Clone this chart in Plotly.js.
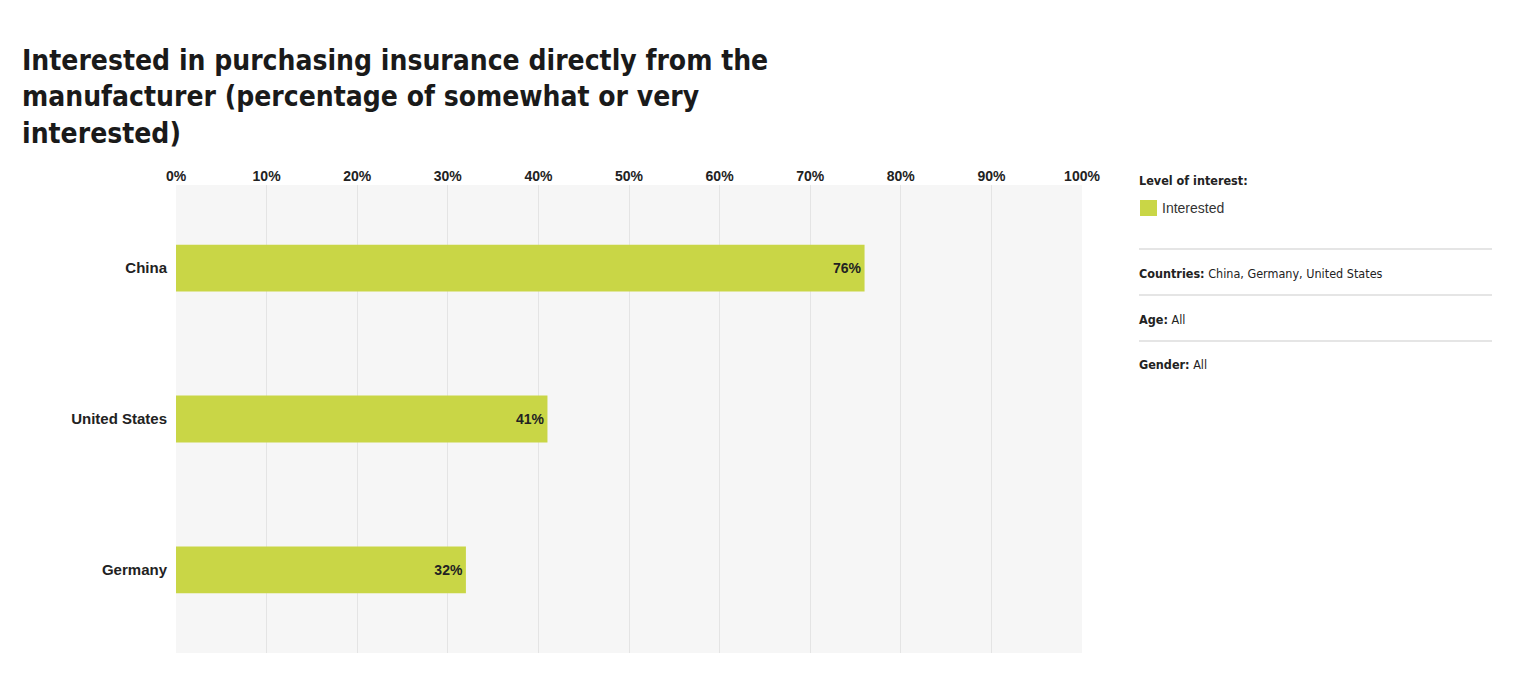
<!DOCTYPE html>
<html>
<head>
<meta charset="utf-8">
<script src="https://cdn.plot.ly/plotly-3.0.1.min.js"></script>
<style>
  html, body { margin: 0; padding: 0; background: #ffffff; }
  #chart { width: 1538px; height: 698px; }
</style>
</head>
<body>
<div id="chart"></div>
<script>
const countries = ["China", "United States", "Germany"];
const interested = [76, 41, 32];
const seriesName = "Interested";
const legendTitle = "Level of interest:";
const tickValues = [0, 10, 20, 30, 40, 50, 60, 70, 80, 90, 100];
const tickLabels = ["0%", "10%", "20%", "30%", "40%", "50%", "60%", "70%", "80%", "90%", "100%"];
const valueLabels = ["76%", "41%", "32%"];
const filterKeys = ["Countries:", "Age:", "Gender:"];
const filterValues = ["China, Germany, United States", "All", "All"];
const titleLines = [
  "Interested in purchasing insurance directly from the",
  "manufacturer (percentage of somewhat or very",
  "interested)"
];

const barColor = "#c9d646";
const condensed = "DejaVu Sans Condensed, DejaVu Sans, sans-serif";
const sans = "Liberation Sans, Arial, Helvetica, sans-serif";

const trace = {
  type: "bar",
  orientation: "h",
  y: countries,
  x: interested,
  name: seriesName,
  marker: { color: barColor },
  width: 0.31,
  text: valueLabels,
  textposition: "inside",
  insidetextanchor: "end",
  textangle: 0,
  insidetextfont: { family: sans, size: 14, color: "#222222", weight: 700 },
  hoverinfo: "skip",
  showlegend: false
};

const plotLeft = 176, plotW = 906;
const plotTop = 185, plotBottom = 653, plotH = plotBottom - plotTop;
function px(pix) { return (pix - plotLeft) / plotW; }
function py(pix) { return (plotBottom - pix) / plotH; }

const annotations = [];
const shapes = [];
const lineYs = [249, 295, 341];
const textYs = [273, 319, 364];

// legend block
annotations.push({
  xref: "paper", yref: "paper", x: px(1137), y: py(180),
  xanchor: "left", yanchor: "middle", showarrow: false,
  text: "<b>" + legendTitle + "</b>",
  font: { family: condensed, size: 12.5, color: "#222222" }
});
shapes.push({
  type: "rect", xref: "paper", yref: "paper",
  x0: px(1140), x1: px(1157), y0: py(216), y1: py(200),
  fillcolor: barColor, line: { width: 0 }
});
annotations.push({
  xref: "paper", yref: "paper", x: px(1160), y: py(208),
  xanchor: "left", yanchor: "middle", showarrow: false,
  text: seriesName,
  font: { family: sans, size: 14, color: "#333333" }
});

lineYs.forEach(yy => {
  shapes.push({
    type: "line", xref: "paper", yref: "paper",
    x0: px(1139), x1: px(1492),
    y0: py(yy), y1: py(yy),
    line: { color: "#dddddd", width: 1.5 }
  });
});
filterKeys.forEach((k, i) => {
  annotations.push({
    xref: "paper", yref: "paper",
    x: px(1137), y: py(textYs[i]),
    xanchor: "left", yanchor: "middle", showarrow: false,
    text: "<b>" + k + "</b> " + filterValues[i],
    font: { family: condensed, size: 12.5, color: "#222222" }
  });
});

const layout = {
  width: 1538, height: 698,
  margin: { l: plotLeft, r: 1538 - plotLeft - plotW, t: plotTop, b: 698 - plotBottom },
  paper_bgcolor: "#ffffff",
  plot_bgcolor: "#f6f6f6",
  title: {
    text: "<b>" + titleLines.join("<br>") + "</b>",
    xref: "container", yref: "container",
    x: 22 / 1538, xanchor: "left",
    y: 1 - 70 / 698, yanchor: "top",
    font: { family: condensed, size: 28, color: "#1a1a1a", weight: 700 }
  },
  xaxis: {
    side: "top",
    range: [0, 100],
    tickmode: "array",
    tickvals: tickValues,
    ticktext: tickLabels,
    showgrid: true, gridcolor: "#e4e4e4", gridwidth: 1,
    zeroline: false, showline: false, ticks: "",
    tickfont: { family: sans, size: 14, color: "#222222", weight: 700 },
    fixedrange: true
  },
  yaxis: {
    type: "category",
    range: [2.55, -0.55],
    showgrid: false, zeroline: false, showline: false, ticks: "",
    ticklabelstandoff: 8,
    tickfont: { family: sans, size: 15, color: "#222222", weight: 700 },
    fixedrange: true
  },
  showlegend: false,
  shapes: shapes,
  annotations: annotations
};

Plotly.newPlot("chart", [trace], layout, { displayModeBar: false, staticPlot: true });
</script>
</body>
</html>
